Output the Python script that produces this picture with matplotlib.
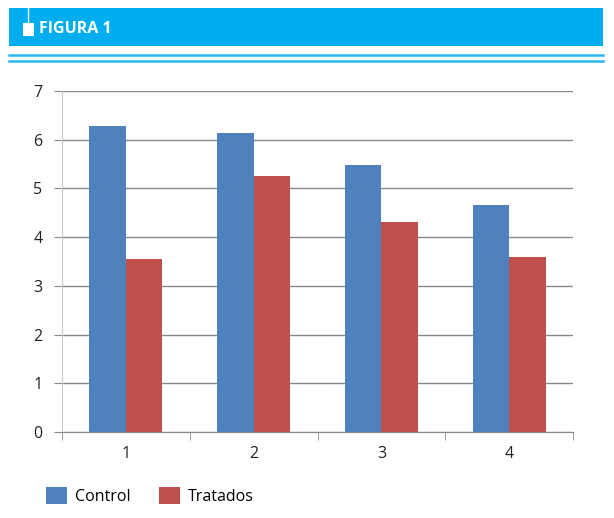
import matplotlib
matplotlib.use('Agg')
import matplotlib.pyplot as plt
import numpy as np
from matplotlib.patches import Rectangle
from matplotlib.lines import Line2D

categories = ['1', '2', '3', '4']
control = [6.28, 6.14, 5.48, 4.66]
tratados = [3.55, 5.26, 4.31, 3.59]

W, H = 614, 518
plt.rcParams['font.family'] = ['Open Sans', 'DejaVu Sans']

fig = plt.figure(figsize=(W / 100, H / 100), dpi=100)

def px(x, y):
    # pixel coords (top-left origin) -> figure fraction
    return x / W, 1 - y / H

# header band
x0, y0 = px(9, 46)
fig.add_artist(Rectangle((x0, y0), (603 - 9) / W, 38 / H, transform=fig.transFigure,
                         facecolor='#00aeef', edgecolor='none'))
fig.add_artist(Line2D([28 / W, 28 / W], [1, 1 - 22 / H], transform=fig.transFigure,
                      color='white', lw=1))
sx, sy = px(23, 36)
fig.add_artist(Rectangle((sx, sy), 11 / W, 13 / H, transform=fig.transFigure,
                         facecolor='white', edgecolor='none'))
fig.text(39 / W, 1 - 29 / H, 'FIGURA 1', color='white', fontsize=11.5,
         fontweight='bold', va='center', ha='left')
for yy in (54.5, 60.5):
    fig.add_artist(Line2D([9 / W, 603 / W], [1 - yy / H] * 2, transform=fig.transFigure,
                          color='#29b6ee', lw=1.8))

# chart
ax = fig.add_axes([62 / W, (H - 432) / H, (573 - 62) / W, (432 - 91) / H])
x = np.arange(len(categories))
bw = 0.285
ax.bar(x - bw / 2, control, bw, color='#4f81bd', label='Control', zorder=3)
ax.bar(x + bw / 2, tratados, bw, color='#c0504d', label='Tratados', zorder=3)

ax.set_xlim(-0.5, len(categories) - 0.5)
ax.set_ylim(0, 7)
ax.set_yticks(range(0, 8))
ax.yaxis.grid(True, color='#888888', lw=1, zorder=0)
ax.set_xticks(x)
ax.set_xticklabels(categories)
ax.set_xticks(np.arange(-0.5, len(categories), 1), minor=True)
ax.tick_params(axis='x', which='major', length=0, pad=10, labelsize=11.5, colors='#222222')
ax.tick_params(axis='x', which='minor', length=6, color='#888888')
ax.tick_params(axis='y', length=6, color='#888888', labelsize=11.5, pad=8, labelcolor='#222222')

for s in ('top', 'right'):
    ax.spines[s].set_visible(False)
ax.spines['left'].set_color('#c8c8c8')
ax.spines['bottom'].set_color('#888888')

ax.legend(loc='upper left', bbox_to_anchor=(46 / W, 1 - 487 / H),
          bbox_transform=fig.transFigure, ncol=2, frameon=False, fontsize=11.5,
          handlelength=1.3, handleheight=1.3, columnspacing=1.8, handletextpad=0.5,
          borderaxespad=0, borderpad=0)

fig.savefig('out.png', dpi=100)
